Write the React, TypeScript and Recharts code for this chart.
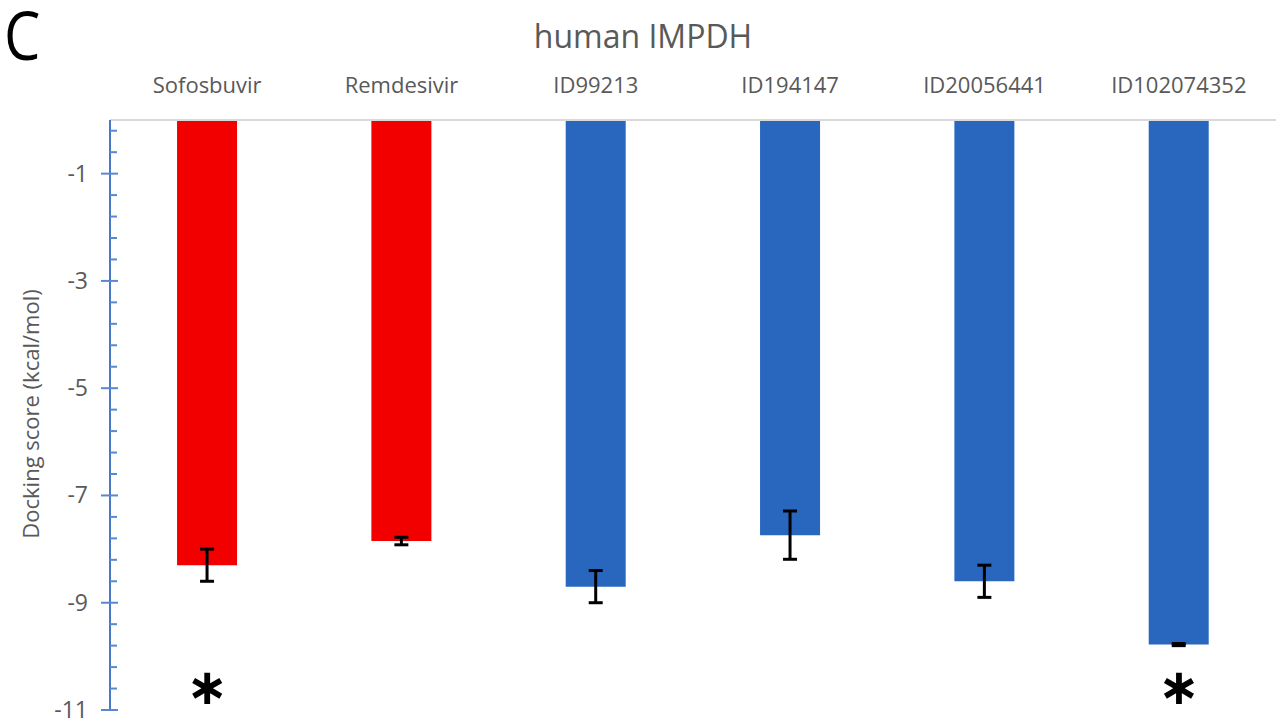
import React from "react";
import { ComposedChart, Bar, ErrorBar, XAxis, YAxis, Scatter, Cell } from "recharts";

const categories = ["Sofosbuvir", "Remdesivir", "ID99213", "ID194147", "ID20056441", "ID102074352"];
const scores = [-8.3, -7.85, -8.7, -7.74, -8.6, -9.78];
const errors = [0.3, 0.07, 0.3, 0.45, 0.3, 0.02];
const barColors = ["#f20000", "#f20000", "#2967bf", "#2967bf", "#2967bf", "#2967bf"];
const significant = [true, false, false, false, false, true];
const starLevel = -10.55;
const majorTicks = [-1, -3, -5, -7, -9, -11];
const minorTicks = [-0.2, -0.6, -1.4, -1.8, -2.2, -2.6, -3.4, -3.8, -4.2, -4.6, -5.4, -5.8, -6.2, -6.6, -7.4, -7.8, -8.2, -8.6, -9.4, -9.8, -10.2, -10.6];

const data = categories.map((name, i) => ({
  name,
  score: scores[i],
  err: errors[i],
  star: significant[i] ? starLevel : null,
}));

const allTicks = [...majorTicks, ...minorTicks].sort((a, b) => a - b);
const FONT = "'Open Sans', 'Liberation Sans', sans-serif";

const YTick = (props: any) => {
  const { y, payload } = props;
  const v = payload.value;
  const isMajor = majorTicks.some((m) => Math.abs(m - v) < 1e-6);
  const ax = 110;
  if (isMajor) {
    return (
      <g>
        <line x1={ax - 9} x2={ax + 8} y1={y} y2={y} stroke="#5b87cf" strokeWidth={2} />
        <text x={ax - 22} y={y} dy={8} textAnchor="end" fontSize={23} fill="#595959" fontFamily={FONT}>
          {v}
        </text>
      </g>
    );
  }
  return <line x1={ax} x2={ax + 7} y1={y} y2={y} stroke="#5b87cf" strokeWidth={2} />;
};

const XTick = (props: any) => {
  const { x, payload } = props;
  return (
    <text x={x} y={93} textAnchor="middle" fontSize={22} fill="#595959" fontFamily={FONT}>
      {payload.value}
    </text>
  );
};

const Star = (props: any) => {
  const { cx, cy, payload } = props;
  if (payload == null || payload.star == null) return <g />;
  return (
    <text x={cx} y={cy} dy={18} textAnchor="middle" fontSize={50} fontWeight="bold" fill="#000" fontFamily="'DejaVu Sans', sans-serif">
      ∗
    </text>
  );
};

export default function App() {
  return (
    <div style={{ position: "absolute", left: 0, top: 0, width: 1276, height: 718, background: "#fff" }}>
      <div
        style={{
          position: "absolute",
          left: 4,
          top: 0,
          fontSize: 68,
          lineHeight: 1,
          fontFamily: FONT,
          color: "#000",
          transform: "scaleX(0.85)",
          transformOrigin: "left top",
        }}
      >
        C
      </div>
      <div style={{ position: "absolute", left: 0, width: 1286, top: 14, textAlign: "center", fontSize: 32, fontFamily: FONT, color: "#595959" }}>
        human IMPDH
      </div>
      <div
        style={{
          position: "absolute",
          left: 30,
          top: 414,
          transform: "translate(-50%, -50%) rotate(-90deg)",
          whiteSpace: "nowrap",
          fontSize: 22,
          fontFamily: FONT,
          color: "#595959",
        }}
      >
        Docking score (kcal/mol)
      </div>
      <div style={{ position: "absolute", left: 0, top: 0 }}>
        <ComposedChart
          width={1276}
          height={718}
          data={data}
          margin={{ top: 20, right: 0, bottom: 8, left: 10 }}
          barCategoryGap="34.5%"
        >
          <XAxis
            dataKey="name"
            orientation="top"
            axisLine={{ stroke: "#d9d9d9", strokeWidth: 2 }}
            tickLine={false}
            tick={<XTick />}
            height={100}
            interval={0}
          />
          <YAxis
            type="number"
            domain={[-11, 0]}
            ticks={allTicks}
            interval={0}
            axisLine={{ stroke: "#4a78c8", strokeWidth: 2 }}
            tickLine={false}
            tick={<YTick />}
            width={100}
            allowDataOverflow
          />
          <Bar dataKey="score" isAnimationActive={false} stroke="none">
            {data.map((d, i) => (
              <Cell key={d.name} fill={barColors[i]} />
            ))}
            <ErrorBar dataKey="err" width={7} strokeWidth={3} stroke="#000" direction="y" />
          </Bar>
          <Scatter dataKey="star" isAnimationActive={false} shape={<Star />} legendType="none" />
        </ComposedChart>
      </div>
    </div>
  );
}
